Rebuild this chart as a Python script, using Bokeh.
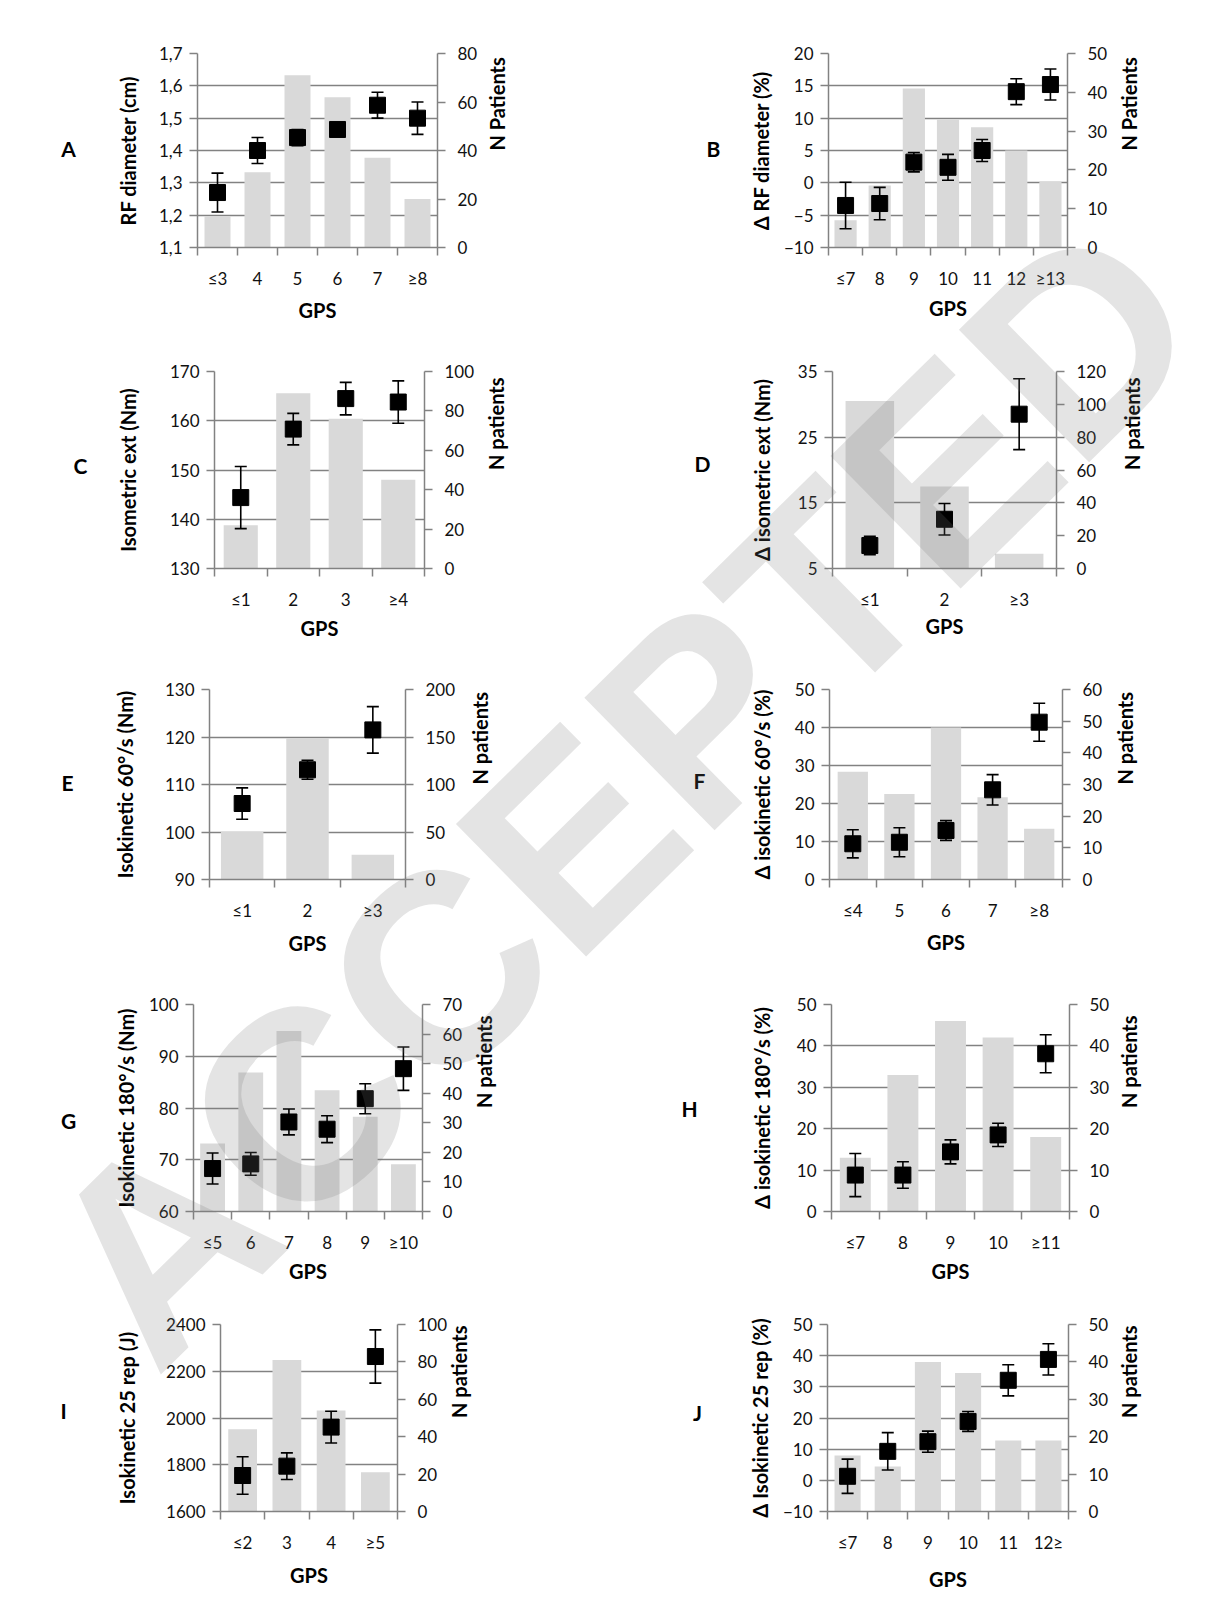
import math
from bokeh.plotting import figure
from bokeh.models import Range1d, LinearAxis, FixedTicker, CustomJSTickFormatter, Label
from bokeh.layouts import column, row
from bokeh.embed import file_html
from bokeh.resources import INLINE

# ---------------- data ----------------
a_cats = ["≤3", "4", "5", "6", "7", "≥8"]
a_mean = [1.27, 1.40, 1.44, 1.465, 1.54, 1.50]
a_err = [0.06, 0.04, 0.025, 0.02, 0.04, 0.05]
a_n = [13, 31, 71, 62, 37, 20]

b_cats = ["≤7", "8", "9", "10", "11", "12", "≥13"]
b_mean = [-3.5, -3.2, 3.2, 2.4, 5.0, 14.1, 15.2]
b_err = [3.6, 2.5, 1.5, 2.0, 1.7, 2.0, 2.4]
b_n = [7, 16, 41, 33, 31, 25, 17]

c_cats = ["≤1", "2", "3", "≥4"]
c_mean = [144.4, 158.3, 164.5, 163.8]
c_err = [6.3, 3.2, 3.3, 4.3]
c_n = [22, 89, 76, 45]

d_cats = ["≤1", "2", "≥3"]
d_mean = [8.5, 12.5, 28.5]
d_err = [1.4, 2.4, 5.4]
d_n = [102, 50, 9]

e_cats = ["≤1", "2", "≥3"]
e_mean = [106.0, 113.1, 121.5]
e_err = [3.3, 2.0, 4.9]
e_n = [50, 149, 26]

f_cats = ["≤4", "5", "6", "7", "≥8"]
f_mean = [9.4, 9.8, 12.9, 23.6, 41.4]
f_err = [3.7, 3.8, 2.6, 4.0, 5.0]
f_n = [34, 27, 48, 26, 16]

g_cats = ["≤5", "6", "7", "8", "9", "≥10"]
g_mean = [68.3, 69.2, 77.3, 75.9, 81.8, 87.6]
g_err = [3.0, 2.2, 2.5, 2.6, 2.9, 4.2]
g_n = [23, 47, 61, 41, 32, 16]

h_cats = ["≤7", "8", "9", "10", "≥11"]
h_mean = [8.8, 8.8, 14.4, 18.5, 38.1]
h_err = [5.2, 3.2, 2.9, 2.8, 4.6]
h_n = [13, 33, 46, 42, 18]

i_cats = ["≤2", "3", "4", "≥5"]
i_mean = [1754, 1794, 1961, 2263]
i_err = [80, 57, 68, 114]
i_n = [44, 81, 54, 21]

j_cats = ["≤7", "8", "9", "10", "11", "12≥"]
j_mean = [1.3, 9.3, 12.4, 18.9, 32.1, 38.8]
j_err = [5.5, 6.0, 3.4, 3.2, 5.0, 5.0]
j_n = [15, 12, 40, 37, 19, 19]

x_title = "GPS"
panel_letters = ["A", "B", "C", "D", "E", "F", "G", "H", "I", "J"]
watermark_text = "ACCEPTED"

# ---------------- style ----------------
FONT = "Lato"
GRID = "#828282"
BAR = "#d9d9d9"
TICK_COLOR = "#111111"
LW = 1.5

COL_X = [0, 604]
COL_W = [604, 604]
ROW_Y = [0, 335, 655, 975, 1300]
ROW_H = [335, 320, 320, 325, 298]


def panel(cats, mean, err, n, yrange, yticks, nrange, nticks, ytitle, ntitle,
          cell, frame, stand, comma=False):
    ci, ri = cell
    fx, fy, W, H = COL_X[ci], ROW_Y[ri], COL_W[ci], ROW_H[ri]
    fl, fr, ft, fb = frame
    N = len(cats)
    ylo, yhi = yrange
    p = figure(width=W, height=H, output_backend="svg", toolbar_location=None,
               x_range=Range1d(0.5, N + 0.5), y_range=Range1d(ylo, yhi),
               min_border_left=fl - fx, min_border_right=fx + W - fr,
               min_border_top=ft - fy, min_border_bottom=fy + H - fb)
    p.outline_line_color = None
    p.extra_y_ranges = {"n": Range1d(*nrange)}

    xs = list(range(1, N + 1))
    lo = [m - e for m, e in zip(mean, err)]
    hi = [m + e for m, e in zip(mean, err)]

    p.vbar(x=xs, top=n, bottom=0, width=0.65, y_range_name="n",
           fill_color=BAR, line_color=None)
    p.segment(x0=xs, y0=lo, x1=xs, y1=hi, line_color="black", line_width=1.6)
    p.scatter(x=xs + xs, y=lo + hi, marker="dash", size=12,
              line_color="black", line_width=1.6)
    p.scatter(x=xs, y=mean, marker="square", size=16,
              fill_color="black", line_color="black")

    xa = p.xaxis[0]
    xa.ticker = FixedTicker(ticks=xs, minor_ticks=[i + 0.5 for i in range(N + 1)])
    xa.major_label_overrides = {x: c for x, c in zip(xs, cats)}
    xa.major_tick_line_color = None
    xa.major_tick_out = 8
    xa.major_tick_in = 0
    xa.minor_tick_in = 0
    xa.minor_tick_out = 8
    xa.minor_tick_line_color = GRID
    xa.minor_tick_line_width = LW
    xa.axis_line_color = GRID
    xa.axis_line_width = LW
    xa.major_label_standoff = 12
    xa.axis_label = x_title
    xa.axis_label_standoff = stand[2]

    ya = p.yaxis[0]
    yt = FixedTicker(ticks=yticks, minor_ticks=[])
    ya.ticker = yt
    p.ygrid.ticker = yt
    if comma:
        ya.formatter = CustomJSTickFormatter(code="return tick.toFixed(1).replace('.', ',')")
    ya.major_tick_in = 0
    ya.major_tick_out = 8
    ya.major_tick_line_color = GRID
    ya.major_tick_line_width = LW
    ya.minor_tick_line_color = None
    ya.axis_line_color = GRID
    ya.axis_line_width = LW
    ya.major_label_standoff = 7
    ya.axis_label = ytitle
    ya.axis_label_standoff = stand[0]

    ra = LinearAxis(y_range_name="n", ticker=FixedTicker(ticks=nticks, minor_ticks=[]),
                    axis_label=ntitle)
    ra.major_tick_in = 0
    ra.major_tick_out = 8
    ra.major_tick_line_color = GRID
    ra.major_tick_line_width = LW
    ra.minor_tick_line_color = None
    ra.axis_line_color = GRID
    ra.axis_line_width = LW
    ra.major_label_standoff = 12
    ra.axis_label_standoff = stand[1]
    ra.axis_label_orientation = math.pi / 2
    p.add_layout(ra, "right")

    for ax in (xa, ya, ra):
        ax.major_label_text_font = FONT
        ax.major_label_text_font_size = "17px"
        ax.major_label_text_color = TICK_COLOR
        ax.axis_label_text_font = FONT
        ax.axis_label_text_font_size = "20px"
        ax.axis_label_text_font_style = "bold"
        ax.axis_label_text_color = "black"

    p.xgrid.visible = False
    p.ygrid.grid_line_color = GRID
    p.ygrid.grid_line_width = LW
    return p


pA = panel(a_cats, a_mean, a_err, a_n, (1.1, 1.7), [1.1, 1.2, 1.3, 1.4, 1.5, 1.6, 1.7],
           (0, 80), [0, 20, 40, 60, 80], "RF diameter (cm)", "N Patients",
           (0, 0), (197, 437, 53, 247), (16, 17, 6), comma=True)
pB = panel(b_cats, b_mean, b_err, b_n, (-10, 20), [-10, -5, 0, 5, 10, 15, 20],
           (0, 50), [0, 10, 20, 30, 40, 50], "Δ RF diameter (%)", "N Patients",
           (1, 0), (828, 1067, 53, 250), (8, 19, 4))
pC = panel(c_cats, c_mean, c_err, c_n, (130, 170), [130, 140, 150, 160, 170],
           (0, 100), [0, 20, 40, 60, 80, 100], "Isometric ext (Nm)", "N patients",
           (0, 1), (214, 424, 369, 568), (27, 19, 3))
pD = panel(d_cats, d_mean, d_err, d_n, (5, 35), [5, 15, 25, 35],
           (0, 120), [0, 20, 40, 60, 80, 100, 120], "Δ isometric ext (Nm)", "N patients",
           (1, 1), (832, 1056, 371, 568), (21, 23, 1))
pE = panel(e_cats, e_mean, e_err, e_n, (90, 130), [90, 100, 110, 120, 130],
           (0, 200), [0, 50, 100, 150, 200], "Isokinetic 60°/s (Nm)", "N patients",
           (0, 2), (209, 405, 687, 879), (25, 22, 7))
pF = panel(f_cats, f_mean, f_err, f_n, (0, 50), [0, 10, 20, 30, 40, 50],
           (0, 60), [0, 10, 20, 30, 40, 50, 60], "Δ isokinetic 60°/s (%)", "N patients",
           (1, 2), (829, 1062, 689, 880), (18, 20, 6))
pG = panel(g_cats, g_mean, g_err, g_n, (60, 100), [60, 70, 80, 90, 100],
           (0, 70), [0, 10, 20, 30, 40, 50, 60, 70], "Isokinetic 180°/s (Nm)", "N patients",
           (0, 3), (193, 422, 1004, 1211), (8, 19, 3))
pH = panel(h_cats, h_mean, h_err, h_n, (0, 50), [0, 10, 20, 30, 40, 50],
           (0, 50), [0, 10, 20, 30, 40, 50], "Δ isokinetic 180°/s (%)", "N patients",
           (1, 3), (831, 1069, 1004, 1212), (20, 17, 3))
pI = panel(i_cats, i_mean, i_err, i_n, (1600, 2400), [1600, 1800, 2000, 2200, 2400],
           (0, 100), [0, 20, 40, 60, 80, 100], "Isokinetic 25 rep (J)", "N patients",
           (0, 4), (220, 397, 1324, 1511), (24, 9, 7))
pJ = panel(j_cats, j_mean, j_err, j_n, (-10, 50), [-10, 0, 10, 20, 30, 40, 50],
           (0, 50), [0, 10, 20, 30, 40, 50], "Δ Isokinetic 25 rep (%)", "N patients",
           (1, 4), (827, 1068, 1320, 1512), (8, 18, 11))

grid = column(row(pA, pB), row(pC, pD), row(pE, pF), row(pG, pH), row(pI, pJ))

# ---------------- overlay: panel letters + diagonal watermark ----------------
TOT_W = sum(COL_W)
TOT_H = sum(ROW_H)
ov = figure(width=TOT_W, height=TOT_H, output_backend="svg", toolbar_location=None,
            x_range=Range1d(0, TOT_W), y_range=Range1d(TOT_H, 0),
            x_axis_type=None, y_axis_type=None, min_border=0,
            styles={"position": "absolute", "left": "0px", "top": "0px",
                    "pointer-events": "none"})
ov.outline_line_color = None
ov.background_fill_color = None
ov.border_fill_color = None

letter_pos = [(68, 148), (713, 148), (80, 465), (702, 463), (67, 782),
              (699, 780), (68, 1120), (689, 1108), (63, 1410), (697, 1412)]
for t, (lx, ly) in zip(panel_letters, letter_pos):
    ov.add_layout(Label(x=lx, y=ly, text=t, text_font=FONT, text_font_size="21px",
                        text_font_style="bold", text_align="center",
                        text_baseline="middle", text_color="black"))

ov.add_layout(Label(x=90, y=1312, text=watermark_text, angle=44.5, angle_units="deg",
                    text_font="Liberation Sans", text_font_style="bold",
                    text_font_size="270px", text_color="#777777", text_alpha=0.2,
                    text_align="left", text_baseline="alphabetic"))

layout = column(grid, ov, styles={"position": "relative"})

open("out.html", "w").write(file_html(layout, INLINE))
